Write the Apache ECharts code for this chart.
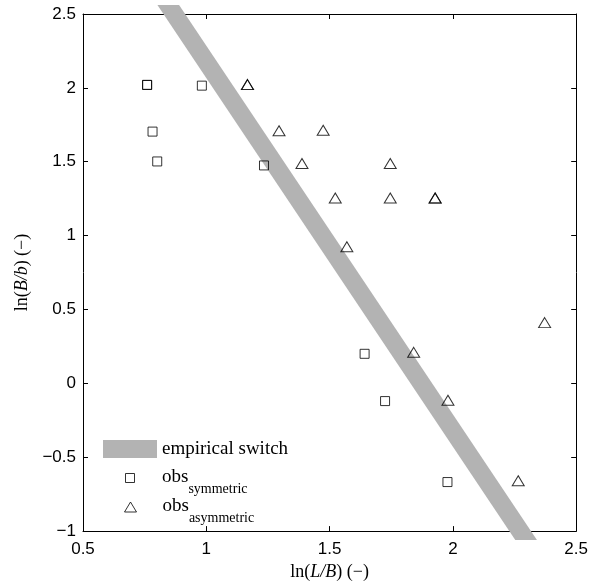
<!DOCTYPE html>
<html><head><meta charset="utf-8">
<script src="https://cdn.jsdelivr.net/npm/echarts@6/dist/echarts.min.js"></script>
<style>html,body{margin:0;padding:0;background:#fff}#c{width:591px;height:586px}</style>
</head><body><div id="c"></div>
<script>
// x axis ticks: ln(L/B)
const xMin = 0.5, xMax = 2.5, xStep = 0.5;
// y axis ticks: ln(B/b)
const yMin = -1, yMax = 2.5, yStep = 0.5;

// empirical switch line (extended past the frame, clipped by the grid)
const switchX = [0.790, 2.353];
const switchY = [2.7, -1.2];

// observations, symmetric (squares)
const symX = [0.760, 0.760, 0.782, 0.801, 0.982, 1.234, 1.642, 1.725, 1.978];
const symY = [2.020, 2.020, 1.704, 1.502, 2.015, 1.475, 0.200, -0.120, -0.668];

// observations, asymmetric (triangles)
const asymX = [1.167, 1.167, 1.295, 1.474, 1.388, 1.746, 1.523, 1.746, 1.928, 1.928, 1.570, 2.372, 1.841, 1.980, 2.265];
const asymY = [2.022, 2.022, 1.710, 1.713, 1.488, 1.488, 1.255, 1.255, 1.255, 1.255, 0.925, 0.411, 0.210, -0.114, -0.659];

const SERIF = 'Liberation Serif';
const SANS = 'Liberation Sans';

function fmt(v) {
  const r = Math.round(v * 100) / 100;
  const s = String(Math.abs(r));
  return r < 0 ? '\u2212' + s : s;
}
const pair = (xs, ys) => xs.map((x, i) => [x, ys[i]]);

const chart = echarts.init(document.getElementById('c'), null, {renderer: 'canvas'});

const tickStyle = {inside: true, length: 5, lineStyle: {color: '#000', width: 1}};
const lineStyle = {onZero: false, lineStyle: {color: '#000', width: 1}};
const nameRich = {
  n: {fontFamily: SERIF, fontSize: 18, color: '#000'},
  i: {fontFamily: SERIF, fontSize: 18, fontStyle: 'italic', color: '#000'}
};
const legendRich = {
  b: {fontFamily: SERIF, fontSize: 19, lineHeight: 20, verticalAlign: 'top', color: '#000'},
  s: {fontFamily: SERIF, fontSize: 14, lineHeight: 14, padding: [14, 0, 0, 0], verticalAlign: 'top', color: '#000'}
};
const hollow = {color: 'rgba(0,0,0,0)', borderColor: '#000', borderWidth: 1};

chart.setOption({
  animation: false,
  backgroundColor: '#fff',
  grid: {left: 83, right: 14, top: 14, bottom: 52, containLabel: false},
  xAxis: [{
    type: 'value', min: xMin, max: xMax, interval: xStep, position: 'bottom',
    axisLine: lineStyle, axisTick: tickStyle, splitLine: {show: false},
    axisLabel: {margin: 10, fontFamily: SANS, fontSize: 17, color: '#000', formatter: fmt},
    name: '{n|ln(}{i|L/B}{n|) (\u2212)}', nameLocation: 'middle', nameGap: 23,
    nameTextStyle: {rich: nameRich}
  }, {
    type: 'value', min: xMin, max: xMax, interval: xStep, position: 'top',
    axisLine: lineStyle, axisTick: tickStyle, splitLine: {show: false},
    axisLabel: {show: false}
  }],
  yAxis: [{
    type: 'value', min: yMin, max: yMax, interval: yStep, position: 'left',
    axisLine: lineStyle, axisTick: tickStyle, splitLine: {show: false},
    axisLabel: {margin: 7, fontFamily: SANS, fontSize: 17, color: '#000', formatter: fmt},
    name: '{n|ln(}{i|B/b}{n|) (\u2212)}', nameLocation: 'middle', nameGap: 49,
    nameTextStyle: {rich: nameRich}
  }, {
    type: 'value', min: yMin, max: yMax, interval: yStep, position: 'right',
    axisLine: lineStyle, axisTick: tickStyle, splitLine: {show: false},
    axisLabel: {show: false}
  }],
  legend: [{
    data: [{name: 'empirical switch', icon: 'rect', itemStyle: {color: '#b3b3b3', borderWidth: 0}}],
    left: 103, top: 438, padding: 0, itemWidth: 54, itemHeight: 18, selectedMode: false,
    textStyle: {fontFamily: SERIF, fontSize: 19, lineHeight: 22, color: '#000'}
  }, {
    data: [{name: 'obs_symmetric', icon: 'path://M0,0L10,0L10,10L0,10Z', itemStyle: hollow}],
    left: 125, top: 468, padding: 0, itemWidth: 54, itemHeight: 9, symbolKeepAspect: true, selectedMode: false,
    formatter: () => '{b|obs}{s|symmetric}',
    textStyle: {rich: legendRich}
  }, {
    data: [{name: 'obs_asymmetric', icon: 'path://M6,0L12,10L0,10Z', itemStyle: hollow}],
    left: 124, top: 497, padding: 0, itemWidth: 54, itemHeight: 10, symbolKeepAspect: true, selectedMode: false,
    formatter: () => '{b|obs}{s|asymmetric}',
    textStyle: {rich: legendRich}
  }],
  series: [{
    type: 'line', name: 'empirical switch', data: pair(switchX, switchY),
    symbol: 'none', clip: true, silent: true, z: 1,
    lineStyle: {color: '#b3b3b3', width: 18, cap: 'butt'}, itemStyle: {color: '#b3b3b3'}
  }, {
    type: 'scatter', name: 'obs_symmetric', data: pair(symX, symY),
    symbol: 'rect', symbolSize: 9, z: 3, itemStyle: hollow, emphasis: {disabled: true}
  }, {
    type: 'scatter', name: 'obs_asymmetric', data: pair(asymX, asymY),
    symbol: 'triangle', symbolSize: [12, 10], z: 3, itemStyle: hollow, emphasis: {disabled: true}
  }]
});
</script></body></html>
